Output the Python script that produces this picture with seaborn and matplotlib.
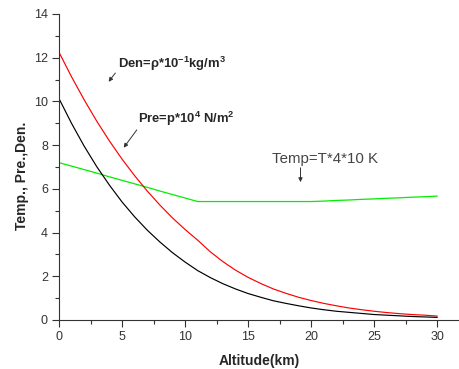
import numpy as np
import pandas as pd
import matplotlib
matplotlib.use("Agg")
import matplotlib.pyplot as plt
import seaborn as sns
from matplotlib.ticker import MultipleLocator

# values, one per km
altitude = list(range(0, 31))
pressure = [10.13, 8.99, 7.95, 7.01, 6.17, 5.40, 4.72, 4.11, 3.57, 3.08, 2.65,
            2.26, 1.94, 1.66, 1.42, 1.21, 1.04, 0.88, 0.76, 0.65, 0.55,
            0.47, 0.40, 0.35, 0.30, 0.25, 0.22, 0.19, 0.16, 0.14, 0.12]
density = [12.25, 11.12, 10.07, 9.09, 8.19, 7.36, 6.60, 5.90, 5.26, 4.67, 4.14,
           3.65, 3.12, 2.67, 2.28, 1.95, 1.67, 1.42, 1.22, 1.04, 0.89,
           0.76, 0.65, 0.55, 0.47, 0.40, 0.34, 0.29, 0.25, 0.22, 0.18]
temperature = [7.20, 7.04, 6.88, 6.72, 6.55, 6.39, 6.23, 6.07, 5.90, 5.74, 5.58,
               5.42, 5.42, 5.42, 5.42, 5.42, 5.42, 5.42, 5.42, 5.42, 5.42,
               5.44, 5.47, 5.49, 5.52, 5.54, 5.57, 5.59, 5.62, 5.64, 5.67]

df = pd.DataFrame({"alt": altitude, "pre": pressure, "den": density, "temp": temperature})

sns.set_style("ticks")
plt.rcParams["font.family"] = ["Liberation Sans", "DejaVu Sans"]
plt.rcParams["mathtext.fontset"] = "custom"
plt.rcParams["mathtext.rm"] = "Liberation Sans"
plt.rcParams["mathtext.bf"] = "Liberation Sans:bold"
plt.rcParams["mathtext.default"] = "bf"

fig = plt.figure(figsize=(4.6, 3.69), dpi=100)
ax = fig.add_axes([59 / 460, 49 / 369, 1 - 59 / 460, 306 / 369])

sns.lineplot(data=df, x="alt", y="temp", color="#00ee00", lw=0.9, ax=ax)
sns.lineplot(data=df, x="alt", y="den", color="#ff0000", lw=0.85, ax=ax)
sns.lineplot(data=df, x="alt", y="pre", color="black", lw=0.85, ax=ax)

ax.set_xlim(0, 31.8)
ax.set_ylim(0, 14)
ax.xaxis.set_major_locator(MultipleLocator(5))
ax.xaxis.set_minor_locator(MultipleLocator(2.5))
ax.yaxis.set_major_locator(MultipleLocator(2))
ax.yaxis.set_minor_locator(MultipleLocator(1))
ax.tick_params(which="major", length=5, width=0.8, colors="#333333", labelsize=9, pad=3)
ax.tick_params(which="minor", length=3, width=0.8, colors="#333333")
sns.despine(ax=ax)
for s in ["left", "bottom"]:
    ax.spines[s].set_color("#333333")
    ax.spines[s].set_linewidth(0.8)

ax.set_xlabel("Altitude(km)", fontsize=10, fontweight="bold", labelpad=8)
ax.set_ylabel("Temp., Pre.,Den.", fontsize=10, fontweight="bold")
ax.yaxis.set_label_coords(-0.075, 0.47)

# annotations
arrow = dict(arrowstyle="-|>", color="#333333", lw=0.7, mutation_scale=6)
ax.annotate("", xy=(3.8, 10.8), xytext=(4.6, 11.4), arrowprops=arrow)
ax.text(4.7, 11.7, r"Den=ρ*10$^{-1}$kg/m$^{3}$", fontsize=9.4, fontweight="bold", va="center", ha="left")
ax.annotate("", xy=(5.0, 7.78), xytext=(6.3, 8.8), arrowprops=arrow)
ax.text(6.3, 9.2, r"Pre=p*10$^{4}$ N/m$^{2}$", fontsize=9.4, fontweight="bold", va="center", ha="left")
ax.annotate("", xy=(19.15, 6.18), xytext=(19.15, 7.09), arrowprops=arrow)
ax.text(16.9, 7.35, "Temp=T*4*10 K", fontsize=10.8, color="#444444", va="center", ha="left")

plt.savefig("out.png", dpi=100)
